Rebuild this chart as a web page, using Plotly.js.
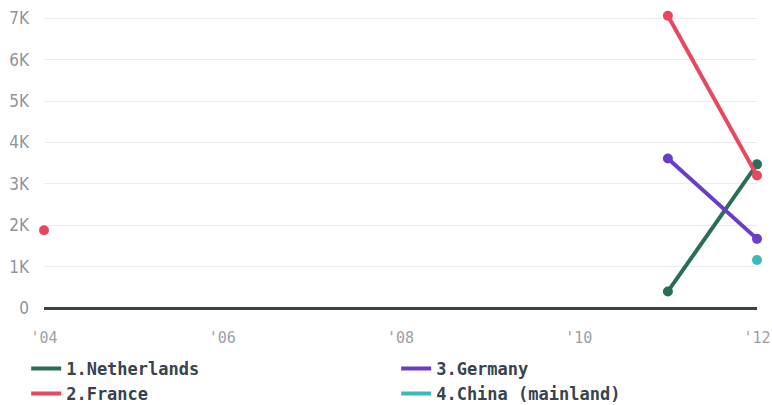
<!DOCTYPE html>
<html><head><meta charset="utf-8">
<script src="https://cdn.plot.ly/plotly-3.0.1.min.js"></script>
<style>html,body{margin:0;padding:0;background:#fff}#c{width:772px;height:405px}</style>
</head><body><div id="c"></div>
<script>
const years = [2004, 2005, 2006, 2007, 2008, 2009, 2010, 2011, 2012];
const netherlands = [null, null, null, null, null, null, null, 400, 3470];
const france = [1880, null, null, null, null, null, null, 7060, 3200];
const germany = [null, null, null, null, null, null, null, 3610, 1670];
const china = [null, null, null, null, null, null, null, null, 1160];
const seriesNames = ['1.Netherlands', '2.France', '3.Germany', '4.China (mainland)'];
const colors = ['#2b6e56', '#e8485f', '#6a3dc9', '#3cb9b9'];
const ranks = [1, 3, 2, 4];
const tickVals = [2004, 2006, 2008, 2010, 2012];
const tickText = ["'04", "'06", "'08", "'10", "'12"];
const yTickVals = [0, 1000, 2000, 3000, 4000, 5000, 6000, 7000];
const yTickText = ['0', '1K', '2K', '3K', '4K', '5K', '6K', '7K'];

const allSeries = [netherlands, france, germany, china];
const traces = [];
allSeries.forEach((s, i) => {
  traces.push({
    x: years, y: s, name: seriesNames[i], type: 'scatter', mode: 'lines+markers',
    connectgaps: false, showlegend: false, cliponaxis: false,
    line: {color: colors[i], width: 4},
    marker: {color: colors[i], size: 10}
  });
});
allSeries.forEach((s, i) => {
  traces.push({
    x: [null], y: [null], name: seriesNames[i], type: 'scatter', mode: 'lines',
    legendrank: ranks[i], showlegend: true,
    line: {color: colors[i], width: 4}
  });
});

const layout = {
  width: 772, height: 405,
  margin: {l: 44, r: 15, t: 12, b: 97, autoexpand: false},
  paper_bgcolor: '#fff', plot_bgcolor: '#fff',
  showlegend: true,
  font: {family: 'DejaVu Sans Mono', color: '#8c959d', size: 14},
  xaxis: {range: [2004, 2012], tickvals: tickVals, ticktext: tickText,
    showgrid: false, zeroline: false, showline: false, ticks: '',
    ticklabelstandoff: 19, tickfont: {family: 'DejaVu Sans Mono', size: 15, color: '#9aa1a7'}},
  yaxis: {range: [0, 7150], tickvals: yTickVals, ticktext: yTickText,
    showgrid: true, gridcolor: '#ececec', gridwidth: 1,
    zeroline: true, zerolinecolor: '#37434d', zerolinewidth: 3,
    ticks: '', ticklabelstandoff: 14, tickfont: {family: 'DejaVu Sans Condensed, Roboto, DejaVu Sans', size: 17, color: '#8c959d'}},
  legend: {orientation: 'h', x: -0.025, xanchor: 'left', y: -0.145, yanchor: 'top',
    entrywidth: 325, entrywidthmode: 'pixels', traceorder: 'normal',
    font: {family: 'DejaVu Sans Mono', size: 17, color: '#37434d', weight: 'bold'}}
};
Plotly.newPlot('c', traces, layout, {displayModeBar: false, staticPlot: true});
</script></body></html>
